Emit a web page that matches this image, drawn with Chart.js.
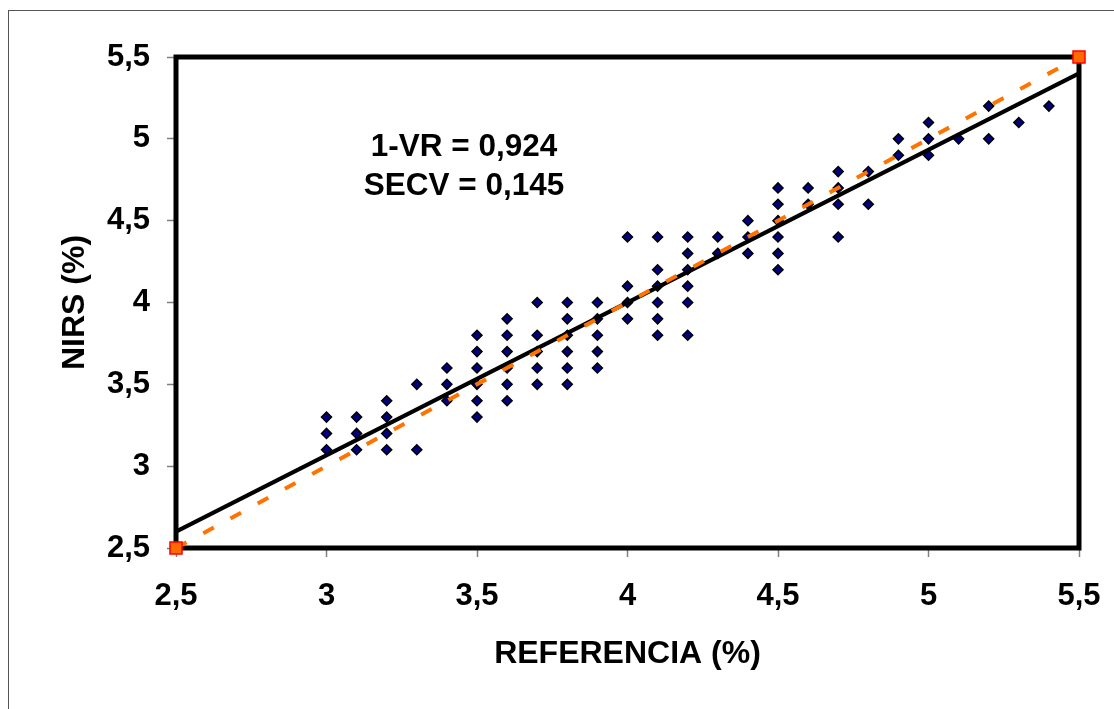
<!DOCTYPE html>
<html>
<head>
<meta charset="utf-8">
<title>NIRS vs REFERENCIA</title>
<script src="https://cdn.jsdelivr.net/npm/chart.js@4.4.1/dist/chart.umd.min.js"></script>
<style>
    html, body { margin: 0; padding: 0; background: #fff; overflow: hidden; }
    .chart-wrap { position: absolute; left: 0; top: 0; width: 1114px; height: 709px; }
</style>
</head>
<body>
<div class="chart-wrap"><canvas id="nirs-chart"></canvas></div>
<script>
// reference values (x) and NIRS predictions (y), one entry per sample
const referencia = [
    3.0, 3.0, 3.0,
    3.1, 3.1, 3.1,
    3.2, 3.2, 3.2, 3.2,
    3.3, 3.3,
    3.4, 3.4, 3.4,
    3.5, 3.5, 3.5, 3.5, 3.5, 3.5,
    3.6, 3.6, 3.6, 3.6, 3.6, 3.6,
    3.7, 3.7, 3.7, 3.7, 3.7,
    3.8, 3.8, 3.8, 3.8, 3.8, 3.8,
    3.9, 3.9, 3.9, 3.9, 3.9,
    4.0, 4.0, 4.0, 4.0,
    4.1, 4.1, 4.1, 4.1, 4.1, 4.1,
    4.2, 4.2, 4.2, 4.2, 4.2, 4.2,
    4.3, 4.3,
    4.4, 4.4, 4.4,
    4.5, 4.5, 4.5, 4.5, 4.5, 4.5,
    4.6, 4.6,
    4.7, 4.7, 4.7, 4.7,
    4.8, 4.8,
    4.9, 4.9,
    5.0, 5.0, 5.0,
    5.1,
    5.2, 5.2,
    5.3,
    5.4
];
const nirs = [
    3.3, 3.2, 3.1,
    3.3, 3.2, 3.1,
    3.4, 3.3, 3.2, 3.1,
    3.5, 3.1,
    3.6, 3.5, 3.4,
    3.8, 3.7, 3.6, 3.5, 3.4, 3.3,
    3.9, 3.8, 3.7, 3.6, 3.5, 3.4,
    4.0, 3.8, 3.7, 3.6, 3.5,
    4.0, 3.9, 3.8, 3.7, 3.6, 3.5,
    4.0, 3.9, 3.8, 3.7, 3.6,
    4.4, 4.1, 4.0, 3.9,
    4.4, 4.2, 4.1, 4.0, 3.9, 3.8,
    4.4, 4.3, 4.2, 4.1, 4.0, 3.8,
    4.4, 4.3,
    4.5, 4.4, 4.3,
    4.7, 4.6, 4.5, 4.4, 4.3, 4.2,
    4.7, 4.6,
    4.8, 4.7, 4.6, 4.4,
    4.8, 4.6,
    5.0, 4.9,
    5.1, 5.0, 4.9,
    5.0,
    5.2, 5.0,
    5.1,
    5.2
];

// regression line (solid) and 1:1 line (dashed) end points
const fitX = [2.5, 5.5];
const fitY = [2.6, 5.4];
const idealX = [2.5, 5.5];
const idealY = [2.5, 5.5];

const axisMin = 2.5;
const axisMax = 5.5;
const axisStep = 0.5;

const statsText = ['1-VR = 0,924', 'SECV = 0,145'];
const statsX = 3.457;
const statsY = [4.895, 4.657];

const FONT = '"Liberation Sans", Arial, sans-serif';

const toPoints = (xs, ys) => xs.map((x, i) => ({ x: x, y: ys[i] }));
const comma = (v) => String(v).replace('.', ',');

// thick frame round the plot area plus the thin outer frame
const framePlugin = {
    id: 'frame',
    beforeDraw(chart) {
        const ctx = chart.ctx;
        ctx.save();
        ctx.fillStyle = '#fff';
        ctx.fillRect(0, 0, chart.width, chart.height);
        ctx.strokeStyle = '#555';
        ctx.lineWidth = 1;
        ctx.strokeRect(8.5, 10.5, 1300, 900);
        ctx.restore();
    },
    beforeDatasetsDraw(chart) {
        const a = chart.chartArea;
        const ctx = chart.ctx;
        ctx.save();
        ctx.strokeStyle = '#000';
        ctx.lineWidth = 5;
        ctx.strokeRect(a.left, a.top, a.right - a.left, a.bottom - a.top);
        ctx.restore();
    },
    afterDraw(chart) {
        const ctx = chart.ctx;
        const xs = chart.scales.x;
        const ys = chart.scales.y;
        ctx.save();
        ctx.fillStyle = '#000';
        ctx.font = 'bold 31.5px ' + FONT;
        ctx.textAlign = 'center';
        ctx.textBaseline = 'alphabetic';
        statsText.forEach((t, i) => {
            ctx.fillText(t, xs.getPixelForValue(statsX), ys.getPixelForValue(statsY[i]));
        });
        ctx.restore();
    }
};

const buildTicks = (scale) => {
    const t = [];
    for (let v = axisMin; v <= axisMax + 1e-9; v += axisStep) t.push({ value: +v.toFixed(1) });
    scale.ticks = t;
};

const ctx1 = document.getElementById('nirs-chart');

new Chart(ctx1, {
    type: 'scatter',
    data: {
        datasets: [
            {
                label: '1:1',
                data: toPoints(idealX, idealY),
                showLine: true,
                borderColor: '#ff7300',
                borderWidth: 4,
                borderDash: [12, 19],
                pointStyle: 'rect',
                pointRadius: 8.5,
                pointBackgroundColor: '#ff6a00',
                pointBorderColor: '#ff0000',
                pointBorderWidth: 1.5,
                clip: false,
                order: 0
            },
            {
                label: 'ajuste',
                data: toPoints(fitX, fitY),
                showLine: true,
                borderColor: '#000',
                borderWidth: 4,
                pointRadius: 0,
                clip: false,
                order: 1
            },
            {
                label: 'muestras',
                data: toPoints(referencia, nirs),
                pointStyle: 'rectRot',
                pointRadius: 5,
                backgroundColor: '#000080',
                borderColor: '#000',
                borderWidth: 1.5,
                clip: false,
                order: 2
            }
        ]
    },
    options: {
        responsive: true,
        maintainAspectRatio: false,
        animation: false,
        layout: {
            padding: { top: 57, right: 35, left: 0, bottom: 0 }
        },
        plugins: {
            legend: { display: false },
            tooltip: { enabled: false }
        },
        scales: {
            x: {
                type: 'linear',
                min: axisMin,
                max: axisMax,
                afterFit(scale) {
                    scale.height = 161;
                    scale.paddingLeft = 0;
                    scale.paddingRight = 0;
                },
                afterBuildTicks: buildTicks,
                grid: {
                    drawOnChartArea: false,
                    drawTicks: true,
                    tickLength: 9,
                    tickColor: '#808080',
                    tickWidth: 1.5
                },
                border: { display: false },
                ticks: {
                    padding: 21,
                    color: '#000',
                    font: { family: FONT, size: 31, weight: 'bold' },
                    maxRotation: 0,
                    callback: (v) => comma(v)
                },
                title: {
                    display: true,
                    text: 'REFERENCIA (%)',
                    color: '#000',
                    font: { family: FONT, size: 32, weight: 'bold' },
                    padding: { top: 0, bottom: 36 }
                }
            },
            y: {
                type: 'linear',
                min: axisMin,
                max: axisMax,
                afterFit(scale) {
                    scale.width = 176;
                    scale.paddingTop = 0;
                    scale.paddingBottom = 0;
                },
                afterBuildTicks: buildTicks,
                grid: {
                    drawOnChartArea: false,
                    drawTicks: true,
                    tickLength: 9,
                    tickColor: '#808080',
                    tickWidth: 1.5
                },
                border: { display: false },
                ticks: {
                    padding: 17,
                    color: '#000',
                    font: { family: FONT, size: 31, weight: 'bold' },
                    callback: (v) => comma(v)
                },
                title: {
                    display: true,
                    text: 'NIRS (%)',
                    color: '#000',
                    font: { family: FONT, size: 32, weight: 'bold' },
                    padding: { top: 56, bottom: 0 }
                }
            }
        }
    },
    plugins: [framePlugin]
});
</script>
</body>
</html>
